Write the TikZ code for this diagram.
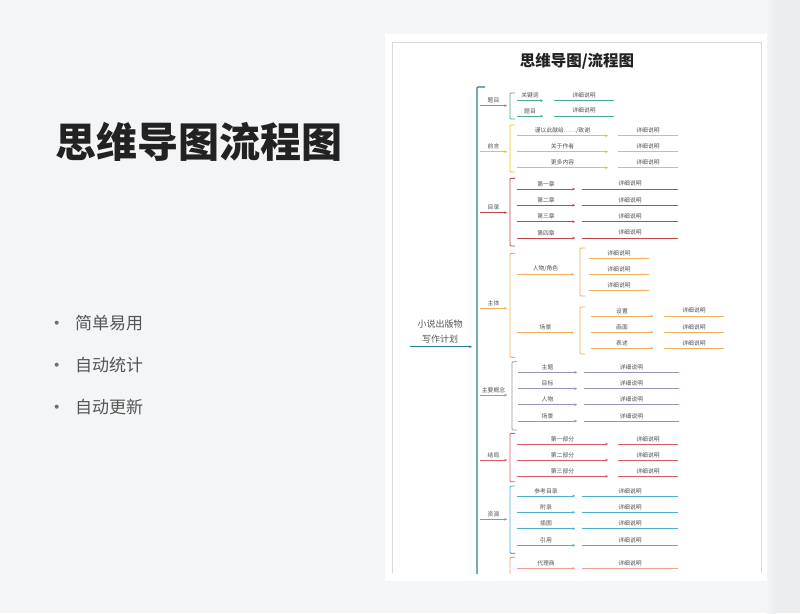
\documentclass[tikz,border=0pt]{standalone}
\usepackage{fontspec}
\setmainfont{Noto Sans CJK SC}
\usepackage{xcolor}
\definecolor{pagebg}{HTML}{F4F5F7}
\definecolor{shadowc}{HTML}{ECEDEF}
\definecolor{framec}{HTML}{D9DADC}
\definecolor{titlec}{HTML}{222222}
\definecolor{bulletc}{HTML}{555555}
\definecolor{textgray}{HTML}{505050}
\definecolor{trunkc}{HTML}{2C7A94}
\definecolor{c1}{HTML}{4FA898}
\definecolor{c2}{HTML}{F5C116}
\definecolor{c3}{HTML}{C0474F}
\definecolor{c4}{HTML}{F0AE5C}
\definecolor{c5}{HTML}{9694B2}
\definecolor{c6}{HTML}{D85A66}
\definecolor{c7}{HTML}{4FADCF}
\definecolor{c8}{HTML}{F09E8C}
\usetikzlibrary{arrows.meta}

% one row of the map: label over a line
\newcommand{\mmrow}[7]{%
  \node[lab, minimum width=#4] (#1) at (#3,#5) {#6};
  \draw[twig, color=#2, #7] (#1.south west) -- (#1.south east);
}

\begin{document}
\begin{tikzpicture}[x=1pt, y=-1pt, >={Stealth[length=3pt,width=2.6pt]},
    lab/.style={font=\fontsize{5.8}{6}\selectfont, text=textgray, inner xsep=0pt, inner ysep=2.3pt, anchor=south},
    twig/.style={line width=1pt},
    hook/.style={line width=0.9pt, rounded corners=1pt}]

	\useasboundingbox (0,0) rectangle (800,613);
	\fill[pagebg] (0,0) rectangle (800,613);
	\shade[left color=pagebg, right color=shadowc] (767,0) rectangle (776,613);
	\fill[shadowc] (776,0) rectangle (800,613);

	% left side
	\node[font=\fontsize{41}{41}\selectfont\bfseries, text=titlec] (title) at (198.5,141.7) {思维导图流程图};
	\foreach \t [count=\i] in {简单易用,自动统计,自动更新} {
		\pgfmathsetmacro\yy{322.7+42*(\i-1)}
		\fill[bulletc!85] (56.7,\yy) circle (2);
		\node[font=\fontsize{17}{17}\selectfont, text=bulletc, anchor=west, inner xsep=0pt] (pt\i) at (75,\yy) {\t};
	}

	% card
	\fill[white] (385,34) rectangle (767,581);
	\draw[framec, line width=0.6pt] (392,573) -- (392,42) -- (761,42) -- (761,573);
	\node[font=\fontsize{15.5}{16}\selectfont\bfseries, text=titlec] (cardtitle) at (577,61.7) {思维导图/流程图};

	\begin{scope}
		\clip (392,42) rectangle (761,573);

		% root and trunk
		\node[font=\fontsize{9}{15}\selectfont, text=bulletc, align=center] (root) at (440,331.5) {小说出版物\\写作计划};
		\coordinate (rootin) at (410,346.7);
		\coordinate (trunkmid) at (477,346.7);
		\coordinate (ttop) at (477,87);
		\coordinate (tbot) at (477,580);
		\draw[trunkc, line width=1.3pt, rounded corners=1pt] ([xshift=8pt]ttop) -- (ttop) -- (tbot);
		\draw[trunkc, line width=1pt, ->] (rootin) -- ([xshift=-5pt]trunkmid);

		% first level
		\foreach \t/\yy/\c [count=\i] in {题目/105.7/c1, 前言/151.7/c2, 目录/212.7/c3, 主体/308.3/c4, 主要概念/395/c5, 结局/460/c6, 资源/519.3/c7} {
			\node[lab, minimum width=27] (b\i) at (493.5,\yy) {\t};
			\draw[twig, color=\c, ->] (b\i.south west) -- (b\i.south east);
		}
		\foreach \xb/\ya/\yb/\c in {510/93/119/c1, 510/125/172/c2, 510/178.3/246/c3, 510/253.3/357.3/c4, 512/361.7/430/c5, 510/433.3/481.7/c6, 510/486/553.3/c7, 510/557.3/600/c8, 580/248/296/c4, 580/307/354/c4} {
			\draw[hook, color=\c] (\xb+5,\ya) -- (\xb,\ya) -- (\xb,\yb) -- (\xb+5,\yb);
		}

		% 题目
		\foreach \t/\yy [count=\i] in {关键词/100.7, 题目/116} {
			\mmrow{ta\i}{c1}{530}{26}{\yy}{\t}{->}
			\mmrow{td\i}{c1}{584}{60}{\yy}{详细说明}{-}
		}
		% 前言
		\foreach \t/\yy [count=\i] in {{谨以此献给……/致谢}/135.7, 关于作者/151.7, 更多内容/167.7} {
			\mmrow{qa\i}{c2}{562.5}{91}{\yy}{\t}{->}
			\mmrow{qd\i}{c2}{648}{60}{\yy}{详细说明}{-}
		}
		% 目录
		\foreach \t/\yy [count=\i] in {第一章/189, 第二章/205.3, 第三章/221.7, 第四章/238} {
			\mmrow{ma\i}{c3}{546}{58}{\yy}{\t}{->}
			\mmrow{md\i}{c3}{630}{96}{\yy}{详细说明}{-}
		}
		% 主体
		\mmrow{za}{c4}{545.5}{57}{274.3}{人物/角色}{->}
		\foreach \yy [count=\i] in {258.3, 274.3, 290.3} {
			\mmrow{zd\i}{c4}{619}{60}{\yy}{详细说明}{-}
		}
		\mmrow{zb}{c4}{545.5}{57}{332.7}{场景}{->}
		\foreach \t/\yy [count=\i] in {设置/316, 画面/332, 表述/348} {
			\mmrow{sa\i}{c4}{622}{62}{\yy}{\t}{->}
			\mmrow{sd\i}{c4}{694}{60}{\yy}{详细说明}{-}
		}
		% 主要概念
		\foreach \t/\yy [count=\i] in {主题/372.3, 目标/388.7, 人物/404.7, 场景/421} {
			\mmrow{ga\i}{c5}{547.5}{59}{\yy}{\t}{->}
			\mmrow{gd\i}{c5}{631.5}{95}{\yy}{详细说明}{-}
		}
		% 结局
		\foreach \t/\yy [count=\i] in {第一部分/444, 第二部分/460, 第三部分/476.3} {
			\mmrow{ja\i}{c6}{562.5}{91}{\yy}{\t}{->}
			\mmrow{jd\i}{c6}{648}{60}{\yy}{详细说明}{-}
		}
		% 资源
		\foreach \t/\yy [count=\i] in {参考目录/496, 附录/512.3, 插图/528.7, 引用/545.3} {
			\mmrow{ya\i}{c7}{546}{58}{\yy}{\t}{->}
			\mmrow{yd\i}{c7}{630}{96}{\yy}{详细说明}{-}
		}
		% last branch, cut off
		\mmrow{da}{c8}{546}{58}{568.3}{代理商}{->}
		\mmrow{dd}{c8}{630}{96}{568.3}{详细说明}{-}
	\end{scope}
\end{tikzpicture}
\end{document}
